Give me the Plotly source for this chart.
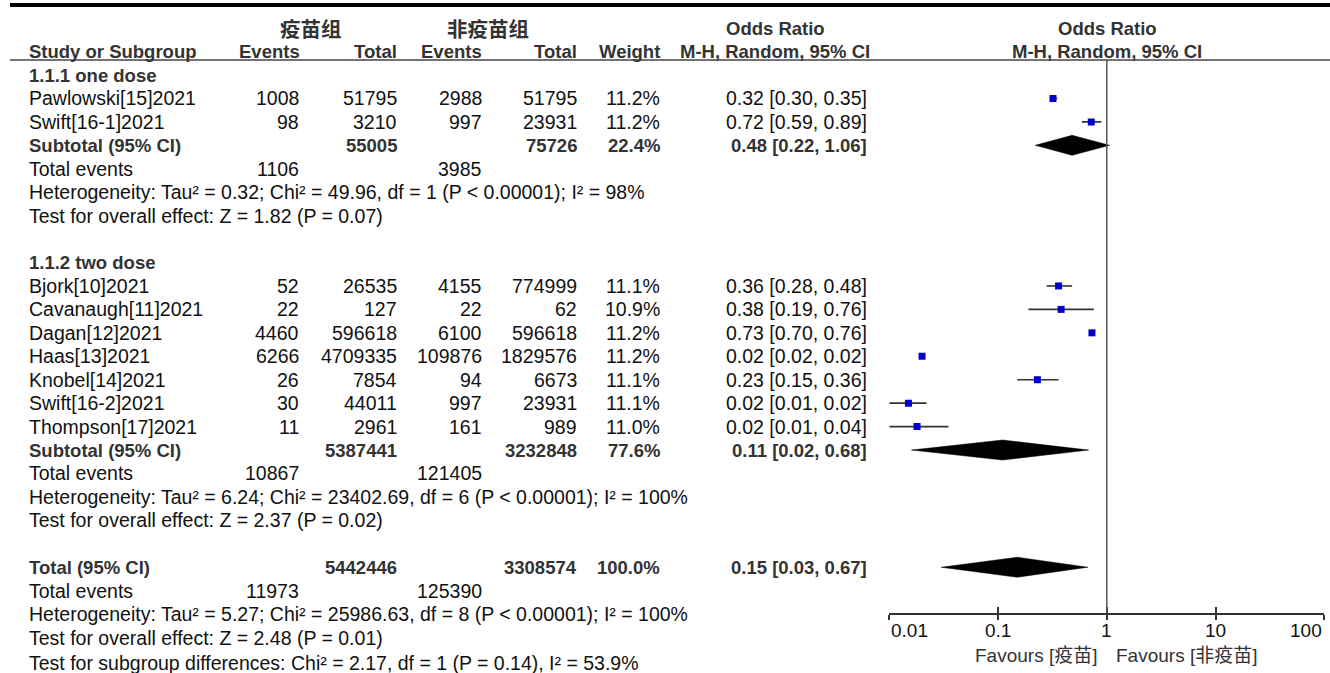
import plotly.graph_objects as go
import math

W, H = 1330, 673

# ---------------- data ----------------
studies = ["Pawlowski[15]2021", "Swift[16-1]2021",
           "Bjork[10]2021", "Cavanaugh[11]2021", "Dagan[12]2021", "Haas[13]2021",
           "Knobel[14]2021", "Swift[16-2]2021", "Thompson[17]2021"]
group = [1, 1, 2, 2, 2, 2, 2, 2, 2]
vac_events = [1008, 98, 52, 22, 4460, 6266, 26, 30, 11]
vac_total = [51795, 3210, 26535, 127, 596618, 4709335, 7854, 44011, 2961]
ctl_events = [2988, 997, 4155, 22, 6100, 109876, 94, 997, 161]
ctl_total = [51795, 23931, 774999, 62, 596618, 1829576, 6673, 23931, 989]
weights = ["11.2%", "11.2%", "11.1%", "10.9%", "11.2%", "11.2%", "11.1%", "11.1%", "11.0%"]
ci_text = ["0.32 [0.30, 0.35]", "0.72 [0.59, 0.89]", "0.36 [0.28, 0.48]", "0.38 [0.19, 0.76]",
           "0.73 [0.70, 0.76]", "0.02 [0.02, 0.02]", "0.23 [0.15, 0.36]", "0.02 [0.01, 0.02]",
           "0.02 [0.01, 0.04]"]
or_est = [0.32, 0.72, 0.36, 0.38, 0.73, 0.020, 0.23, 0.015, 0.018]
or_lo = [0.30, 0.59, 0.28, 0.19, 0.70, 0.019, 0.15, 0.010, 0.010]
or_hi = [0.35, 0.89, 0.48, 0.76, 0.76, 0.021, 0.36, 0.022, 0.035]

sub_labels = ["Subtotal (95% CI)", "Subtotal (95% CI)", "Total (95% CI)"]
sub_weight = ["22.4%", "77.6%", "100.0%"]
sub_ci_text = ["0.48 [0.22, 1.06]", "0.11 [0.02, 0.68]", "0.15 [0.03, 0.67]"]
sub_est = [0.48, 0.11, 0.15]
sub_lo = [0.22, 0.016, 0.03]
sub_hi = [1.06, 0.68, 0.67]

het_text = ["Heterogeneity: Tau² = 0.32; Chi² = 49.96, df = 1 (P < 0.00001); I² = 98%",
            "Heterogeneity: Tau² = 6.24; Chi² = 23402.69, df = 6 (P < 0.00001); I² = 100%",
            "Heterogeneity: Tau² = 5.27; Chi² = 25986.63, df = 8 (P < 0.00001); I² = 100%"]
eff_text = ["Test for overall effect: Z = 1.82 (P = 0.07)",
            "Test for overall effect: Z = 2.37 (P = 0.02)",
            "Test for overall effect: Z = 2.48 (P = 0.01)"]
subgroup_diff = "Test for subgroup differences: Chi² = 2.17, df = 1 (P = 0.14), I² = 53.9%"
group_titles = ["1.1.1 one dose", "1.1.2 two dose"]

tick_vals = [0.01, 0.1, 1, 10, 100]
tick_text = ["0.01", "0.1", "1", "10", "100"]

# ---------------- layout helpers ----------------
L = math.log10
Y0, DY = 75.0, 23.44          # first row centre, row pitch (px)
def rowy(k):
    return Y0 + k * DY

X_NAME, X_EV1, X_TOT1, X_EV2, X_TOT2, X_WT, X_CI = 27, 301, 399, 484, 579, 662, 869
AX_L, AX_R = 889.3, 1324.3
AX_TOP, AX_BOT = 60, 613

FONT = "Liberation Sans, Arial, sans-serif"
CJK = "Liberation Sans, Arial, Noto Sans CJK SC, sans-serif"
FS_B = 18.5
FS_R = 19.5
TXT = "#111111"
HDR = "#333333"

ann = []
def text(x, y, s, anchor="left", bold=False, color=None, size=None, family=FONT):
    if size is None:
        size = FS_B if bold else FS_R
    ann.append(dict(x=x / W, y=1 - y / H, xref="paper", yref="paper", text=(f"<b>{s}</b>" if bold else s),
                    showarrow=False, xanchor=anchor, yanchor="middle",
                    font=dict(family=family, size=size, color=color or (HDR if bold else TXT))))

# headers
text(311, 30, "疫苗组", "center", True, size=20.5, family=CJK)
text(488, 30, "非疫苗组", "center", True, size=20.5, family=CJK)
text(775, 29, "Odds Ratio", "center", True)
text(1107, 29, "Odds Ratio", "center", True)
hy = 52
text(X_NAME, hy, "Study or Subgroup", "left", True)
text(X_EV1 + 1, hy, "Events", "right", True)
text(X_TOT1, hy, "Total", "right", True)
text(X_EV2, hy, "Events", "right", True)
text(X_TOT2, hy, "Total", "right", True)
text(X_WT, hy, "Weight", "right", True)
text(775, hy, "M-H, Random, 95% CI", "center", True)
text(1107, hy, "M-H, Random, 95% CI", "center", True)

# group structure
group_start = {1: 0, 2: 8}
study_rows = []
sums = {}
for g in (1, 2):
    base = group_start[g]
    text(X_NAME, rowy(base), group_titles[g - 1], "left", True)
    idx = [i for i in range(len(studies)) if group[i] == g]
    for j, i in enumerate(idx):
        r = base + 1 + j
        y = rowy(r)
        study_rows.append(y)
        text(X_NAME, y, studies[i])
        text(X_EV1, y, str(vac_events[i]), "right")
        text(X_TOT1, y, str(vac_total[i]), "right")
        text(X_EV2, y, str(ctl_events[i]), "right")
        text(X_TOT2, y, str(ctl_total[i]), "right")
        text(X_WT, y, weights[i], "right")
        text(X_CI, y, ci_text[i], "right")
    sr = base + 1 + len(idx)
    sums[g] = (sum(vac_events[i] for i in idx), sum(vac_total[i] for i in idx),
               sum(ctl_events[i] for i in idx), sum(ctl_total[i] for i in idx), sr)

sums[3] = tuple(sums[1][k] + sums[2][k] for k in range(4)) + (21,)

sub_rows = []
for s, g in enumerate((1, 2, 3)):
    ve, vt, ce, ct, sr = sums[g]
    y = rowy(sr)
    sub_rows.append(y)
    text(X_NAME, y, sub_labels[s], "left", True)
    text(X_TOT1, y, str(vt), "right", True)
    text(X_TOT2, y, str(ct), "right", True)
    text(X_WT, y, sub_weight[s], "right", True)
    text(X_CI, y, sub_ci_text[s], "right", True)
    text(X_NAME, rowy(sr + 1), "Total events")
    text(X_EV1, rowy(sr + 1), str(ve), "right")
    text(X_EV2, rowy(sr + 1), str(ce), "right")
    text(X_NAME, rowy(sr + 2), het_text[s])
    text(X_NAME, rowy(sr + 3), eff_text[s])
text(X_NAME, rowy(25) + 2, subgroup_diff)

# favours labels
text(1099, 655, "Favours [疫苗]", "right", color="#333333", size=19, family=CJK)
text(1114, 655, "Favours [非疫苗]", "left", color="#333333", size=19, family=CJK)

# ---------------- forest traces ----------------
fig = go.Figure()
wx, wy = [], []
for i in range(len(studies)):
    wx += [L(or_lo[i]), L(or_hi[i]), None]
    wy += [study_rows[i], study_rows[i], None]
fig.add_trace(go.Scatter(x=wx, y=wy, mode="lines", line=dict(color="#333333", width=1.6),
                         hoverinfo="skip", showlegend=False))
fig.add_trace(go.Scatter(x=[L(v) for v in or_est], y=study_rows, mode="markers",
                         marker=dict(symbol="square", size=7, color="#0000CC", line=dict(width=0)),
                         showlegend=False))
for s in range(3):
    y = sub_rows[s]
    fig.add_trace(go.Scatter(x=[L(sub_lo[s]), L(sub_est[s]), L(sub_hi[s]), L(sub_est[s]), L(sub_lo[s])],
                             y=[y, y - 10, y, y + 10, y], mode="lines", fill="toself",
                             fillcolor="black", line=dict(color="black", width=0.5),
                             hoverinfo="skip", showlegend=False))

# tick labels (end labels aligned inward as in the reference)
anchors = ["left", "center", "center", "center", "right"]
for v, t, a in zip(tick_vals, tick_text, anchors):
    ann.append(dict(x=L(v), y=1 - 630 / H, xref="x", yref="paper", text=t, showarrow=False,
                    xanchor=a, yanchor="middle", font=dict(family=FONT, size=19, color=TXT)))

shapes = [
    dict(type="line", xref="paper", yref="paper", x0=10 / W, x1=1, y0=1 - 5 / H, y1=1 - 5 / H,
         line=dict(color="black", width=4)),
    dict(type="line", xref="paper", yref="paper", x0=10 / W, x1=1, y0=1 - 60 / H, y1=1 - 60 / H,
         line=dict(color="#444444", width=1.5)),
    dict(type="line", xref="x", yref="y", x0=0, x1=0, y0=AX_TOP, y1=AX_BOT,
         line=dict(color="#555555", width=1.5)),
]

xdom = [AX_L / W, AX_R / W]
fig.update_layout(
    width=W, height=H, margin=dict(l=0, r=0, t=0, b=0),
    paper_bgcolor="white", plot_bgcolor="white", showlegend=False,
    xaxis=dict(domain=xdom, range=[-2, 2], showgrid=False, zeroline=False,
               showline=True, linecolor="#333333", linewidth=1.5,
               tickvals=[L(v) for v in tick_vals], showticklabels=False,
               ticks="outside", ticklen=5, tickwidth=1.5, tickcolor="#333333", anchor="y"),
    xaxis2=dict(domain=xdom, range=[-2, 2], overlaying="x", side="bottom", anchor="y",
                showgrid=False, zeroline=False, showline=False,
                tickvals=[L(v) for v in tick_vals], showticklabels=False,
                ticks="inside", ticklen=6, tickwidth=1.5, tickcolor="#333333"),
    yaxis=dict(domain=[1 - AX_BOT / H, 1 - AX_TOP / H], range=[AX_BOT, AX_TOP],
               showgrid=False, zeroline=False, showline=False, showticklabels=False, ticks=""),
    annotations=ann, shapes=shapes,
)
fig.add_trace(go.Scatter(x=[None], y=[None], xaxis="x2", yaxis="y", showlegend=False))

fig.write_html("out.html", config={"displayModeBar": False},
               post_script="document.body.style.margin='0';document.body.style.overflow='hidden';")
